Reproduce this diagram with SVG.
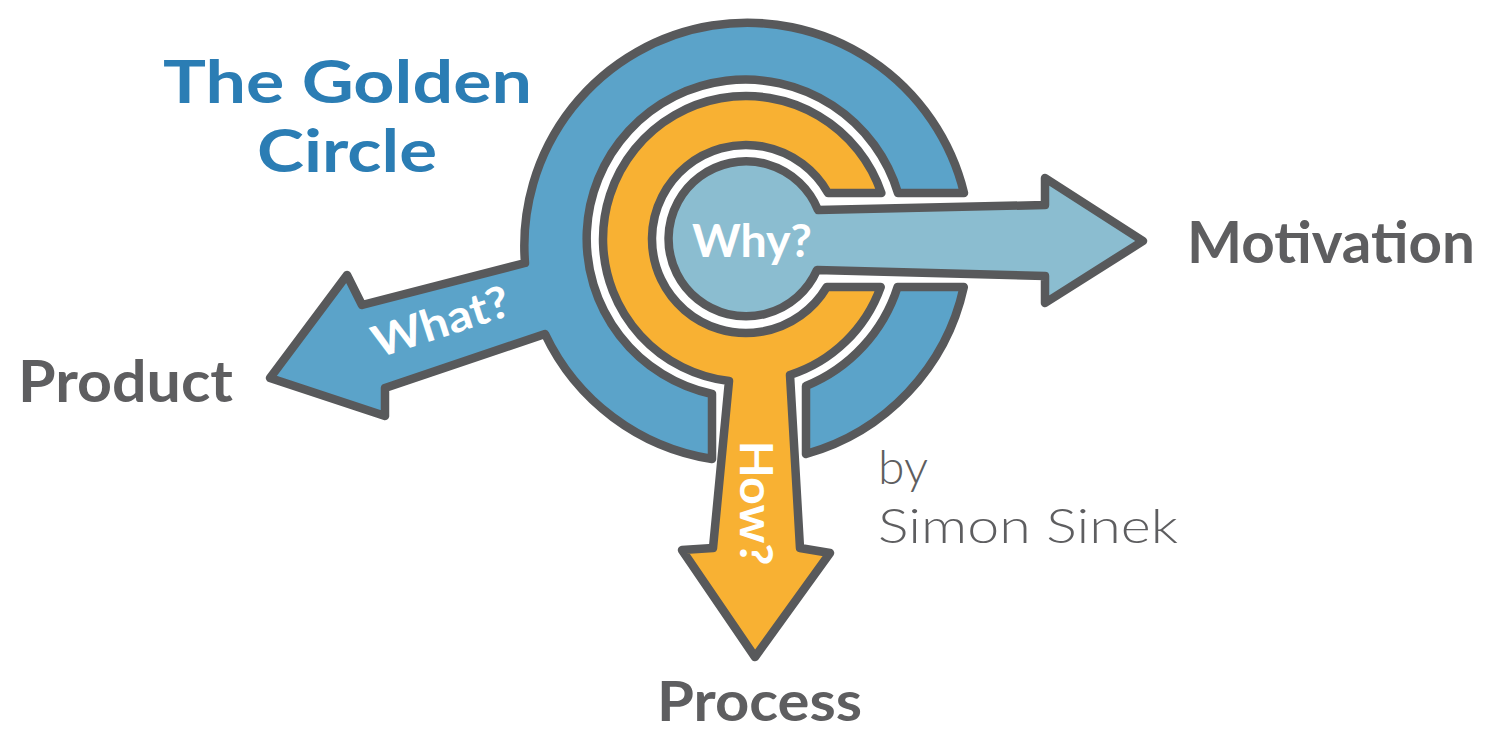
<svg xmlns="http://www.w3.org/2000/svg" width="1486" height="733" viewBox="0 0 1486 733">
<style>
.shape{stroke:#58595b;stroke-width:8.5;stroke-linejoin:round}
.blue{fill:#5ba3c9}
.orange{fill:#f8b133}
.light{fill:#8bbdd0}
.inner{font-family:Lato,"Open Sans",sans-serif;font-weight:700;fill:#ffffff}
.label{font-family:Lato,"Open Sans",sans-serif;font-weight:700;fill:#5e5e60}
.title{font-family:Lato,"Open Sans",sans-serif;font-weight:700;fill:#2b7db4;font-size:60px}
.by{font-family:Lato,"Open Sans",sans-serif;font-weight:300;fill:#5e5e60;font-size:48px}
</style>
<rect width="1486" height="733" fill="#ffffff"/>
<g id="title">
<text class="title" x="163" y="103" textLength="369" lengthAdjust="spacingAndGlyphs">The Golden</text>
<text class="title" x="257" y="172" textLength="180" lengthAdjust="spacingAndGlyphs">Circle</text>
</g>
<g id="what">
<path class="shape blue" d="M 964,193 A 223 223 0 0 0 525,263 L 362,305 L 347,275 L 270,378 L 385,416 L 385,388 L 545,334 A 223 223 0 0 0 712,459 L 712,394 A 159 159 0 1 1 898,193 Z"/>
<path class="shape blue" d="M 806,454 L 806,386 A 159 159 0 0 0 897.6,287 L 963.8,287 A 223 223 0 0 1 806,454 Z"/>
<text class="inner" font-size="44" text-anchor="middle" transform="translate(441,322) rotate(-18)" y="15" textLength="142" lengthAdjust="spacingAndGlyphs">What?</text>
</g>
<g id="how">
<path class="shape orange" d="M 881.4,193 A 143 143 0 1 0 729,381 L 713,548 L 682,550 L 755,657 L 830,553 L 800,548 L 790,375 A 143 143 0 0 0 880.7,287 L 826.8,287 A 94 94 0 1 1 828,193 Z"/>
<text class="inner" font-size="46" text-anchor="middle" transform="translate(756,503) rotate(90)" y="16" textLength="125" lengthAdjust="spacingAndGlyphs">How?</text>
</g>
<g id="why">
<path class="shape light" d="M 818,210 L 1045,205 L 1045,178 L 1143,241 L 1045,303 L 1045,276 L 817,270 A 77.5 77.5 0 1 1 818,210 Z"/>
<text class="inner" font-size="45" text-anchor="middle" x="752" y="257" textLength="120" lengthAdjust="spacingAndGlyphs">Why?</text>
</g>
<g id="connectors"></g>
<g id="motivation"><text class="label" font-size="57" x="1187" y="263" textLength="288" lengthAdjust="spacingAndGlyphs">Motivation</text></g>
<g id="product"><text class="label" font-size="57" x="18" y="402" textLength="215" lengthAdjust="spacingAndGlyphs">Product</text></g>
<g id="process"><text class="label" font-size="55" x="657" y="721" textLength="205" lengthAdjust="spacingAndGlyphs">Process</text></g>
<g id="byline">
<text class="by" x="878" y="484">by</text>
<text class="by" x="878" y="543" textLength="300" lengthAdjust="spacingAndGlyphs">Simon Sinek</text>
</g>
</svg>
